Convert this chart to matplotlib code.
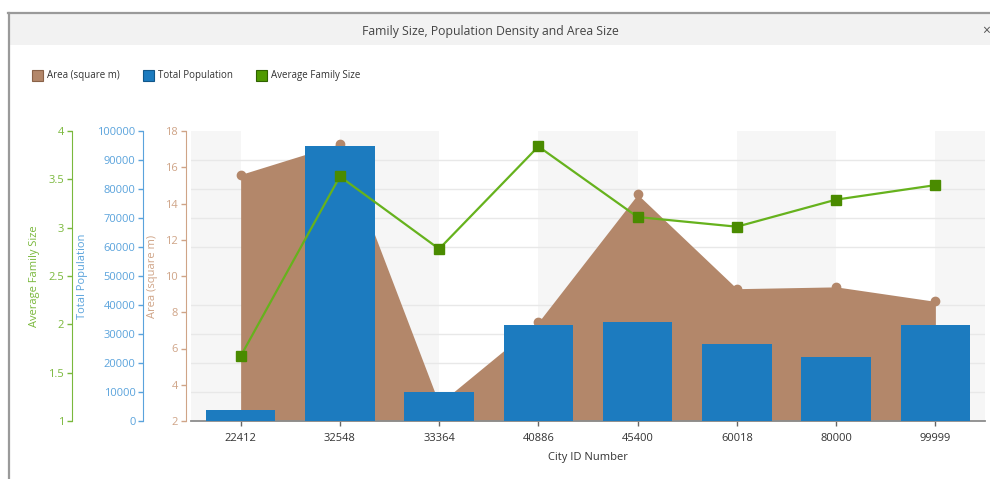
import matplotlib
matplotlib.use('Agg')
import matplotlib.pyplot as plt
from matplotlib.patches import Rectangle
from matplotlib.lines import Line2D
import numpy as np

# ---------------- data ----------------
city_ids = ['22412', '32548', '33364', '40886', '45400', '60018', '80000', '99999']
area_sq_m = [15.6, 17.3, 2.95, 7.45, 14.5, 9.3, 9.4, 8.6]
total_population = [3700, 95000, 10000, 33000, 34000, 26500, 22000, 33000]
avg_family_size = [1.67, 3.53, 2.78, 3.84, 3.11, 3.01, 3.29, 3.44]

area_ticks = list(range(2, 19, 2))
pop_ticks = list(range(0, 100001, 10000))
family_ticks = [1, 1.5, 2, 2.5, 3, 3.5, 4]
family_tick_labels = ['1', '1.5', '2', '2.5', '3', '3.5', '4']

series_names = ['Area (square m)', 'Total Population', 'Average Family Size']

# ---------------- style ----------------
plt.rcParams['font.family'] = ['Open Sans', 'DejaVu Sans']
BROWN = '#b3876a'
BROWN_AX = '#cfa487'
BLUE = '#1c7bbf'
BLUE_AX = '#5aa3dc'
GREEN_LINE = '#66b21d'
GREEN_MK = '#4a8b00'
GREEN_AX = '#7ab83c'

W, H = 990, 479
fig = plt.figure(figsize=(W / 100, H / 100), dpi=100)
fig.patch.set_facecolor('white')


def fx(px):
    return px / W


def fy(py):
    return 1 - py / H


# window frame / title bar
fig.patches.append(Rectangle((fx(9), fy(45)), 1 - fx(9), fy(14) - fy(45),
                             transform=fig.transFigure, facecolor='#f2f2f2',
                             edgecolor='none', zorder=0))
fig.lines.append(Line2D([fx(9), fx(9)], [0, fy(13)], transform=fig.transFigure,
                        color='#9a9a9a', lw=1.6))
fig.lines.append(Line2D([fx(8), 1], [fy(13), fy(13)], transform=fig.transFigure,
                        color='#9a9a9a', lw=1.6))
fig.text(fx(490), fy(31), 'Family Size, Population Density and Area Size',
         ha='center', va='center', fontsize=8.8, color='#444444')
fig.text(fx(986), fy(31), '×', ha='center', va='center', fontsize=10, color='#555555')

# legend (manual)
legend_items = [(32, BROWN, '#8a6248', series_names[0]),
                (143, BLUE, '#11578a', series_names[1]),
                (256, '#4f9a00', '#2f6200', series_names[2])]
for px, fc, ec, name in legend_items:
    fig.patches.append(Rectangle((fx(px), fy(81)), fx(11), fy(70) - fy(81),
                                 transform=fig.transFigure, facecolor=fc,
                                 edgecolor=ec, lw=0.8))
    fig.text(fx(px + 15), fy(75.5), name, ha='left', va='center',
             fontsize=7, color='#333333')

# ---------------- axes ----------------
L, R, T, B = 191, 985, 131, 421
ax = fig.add_axes([fx(L), fy(B), fx(R) - fx(L), fy(T) - fy(B)])
x = np.arange(len(city_ids))
ax.set_xlim(-0.5, len(city_ids) - 0.5)
ax.set_ylim(area_ticks[0], area_ticks[-1])

# alternating bands
for i in range(-1, len(city_ids), 2):
    ax.axvspan(max(i, -0.5), min(i + 1, len(city_ids) - 0.5),
               color='#f6f6f6', lw=0, zorder=0)

# horizontal grid (aligned with population ticks)
ax.set_yticks(np.linspace(area_ticks[0], area_ticks[-1], len(pop_ticks)), minor=True)
ax.grid(which='minor', axis='y', color='#e8e8e8', lw=1.0, zorder=1)

# area series
ax.fill_between(x, area_sq_m, area_ticks[0], color=BROWN, lw=0, zorder=2)
ax.plot(x, area_sq_m, 'o', color=BROWN, ms=6, zorder=3)

ax.set_yticks(area_ticks)
ax.set_xticks(x)
ax.set_xticklabels(city_ids)
for s in ['top', 'right']:
    ax.spines[s].set_visible(False)
ax.spines['left'].set_position(('outward', 3.6))
ax.spines['left'].set_color(BROWN_AX)
ax.spines['bottom'].set_color('#8c8c8c')
ax.spines['bottom'].set_linewidth(1.3)
ax.tick_params(axis='y', which='major', colors=BROWN_AX, length=3.6, width=1,
               labelsize=8, pad=2)
ax.tick_params(axis='y', which='minor', length=0, width=0)
ax.tick_params(axis='x', colors='#666666', length=3.6, width=1, labelsize=8,
               labelcolor='#333333', pad=5)
ax.set_xlabel('City ID Number', fontsize=8, color='#333333')
ax.xaxis.set_label_coords(0.5, (B - 452) / (B - T))

# population bars
ax2 = ax.twinx()
ax2.bar(x, total_population, 0.7, color=BLUE, lw=0, zorder=2)
ax2.set_ylim(pop_ticks[0], pop_ticks[-1])
ax2.set_yticks(pop_ticks)
ax2.yaxis.set_ticks_position('left')
for s in ['top', 'right', 'bottom']:
    ax2.spines[s].set_visible(False)
ax2.spines['left'].set_visible(True)
ax2.spines['left'].set_position(('outward', 34.3))
ax2.spines['left'].set_color(BLUE_AX)
ax2.tick_params(axis='y', colors=BLUE_AX, length=3.6, width=1, labelsize=8, pad=2)

# family size line
ax3 = ax.twinx()
ax3.plot(x, avg_family_size, color=GREEN_LINE, lw=1.6, marker='s', ms=6.5,
         mfc=GREEN_MK, mec=GREEN_MK, zorder=3)
ax3.set_ylim(family_ticks[0], family_ticks[-1])
ax3.set_yticks(family_ticks)
ax3.set_yticklabels(family_tick_labels)
ax3.yaxis.set_ticks_position('left')
for s in ['top', 'right', 'bottom']:
    ax3.spines[s].set_visible(False)
ax3.spines['left'].set_visible(True)
ax3.spines['left'].set_position(('outward', 85.7))
ax3.spines['left'].set_color(GREEN_AX)
ax3.tick_params(axis='y', colors=GREEN_AX, length=3.6, width=1, labelsize=8, pad=2)

# y-axis titles
fig.text(fx(35), fy(276), series_names[2], rotation=90, ha='center', va='center',
         fontsize=8, color=GREEN_AX)
fig.text(fx(82), fy(276), series_names[1], rotation=90, ha='center', va='center',
         fontsize=8, color=BLUE_AX)
fig.text(fx(152), fy(276), series_names[0], rotation=90, ha='center', va='center',
         fontsize=8, color=BROWN_AX)

fig.savefig('out.png', dpi=100)
